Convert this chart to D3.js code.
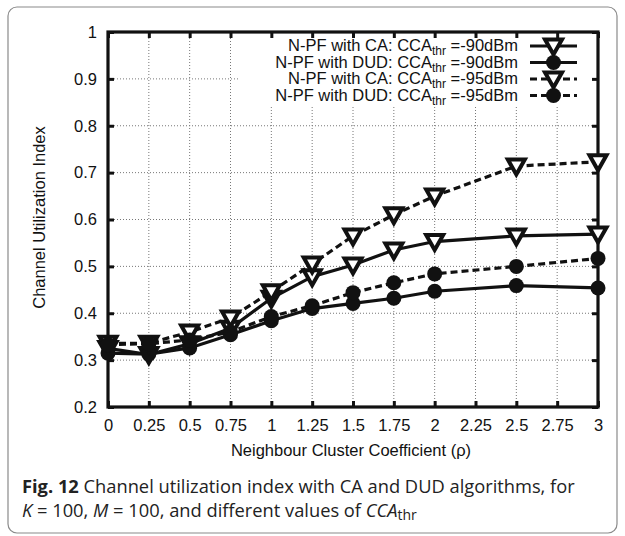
<!DOCTYPE html>
<html>
<head>
<meta charset="utf-8">
<script src="https://cdn.jsdelivr.net/npm/d3@7"></script>
<style>
  html, body { margin: 0; padding: 0; background: #fff; }
  svg { display: block; }
</style>
</head>
<body>
<svg id="chart" width="625" height="536"></svg>
<script>
// ---- data ----
const xValues = [0, 0.25, 0.5, 0.75, 1, 1.25, 1.5, 1.75, 2, 2.5, 3];
const caMinus90  = [0.325, 0.312, 0.335, 0.368, 0.432, 0.478, 0.503, 0.535, 0.553, 0.565, 0.569];
const dudMinus90 = [0.315, 0.313, 0.326, 0.354, 0.384, 0.410, 0.421, 0.432, 0.447, 0.459, 0.454];
const caMinus95  = [0.336, 0.336, 0.360, 0.390, 0.446, 0.505, 0.565, 0.610, 0.650, 0.714, 0.723];
const dudMinus95 = [0.333, 0.335, 0.343, 0.360, 0.393, 0.416, 0.444, 0.465, 0.484, 0.500, 0.517];
const xTicks = [0, 0.25, 0.5, 0.75, 1, 1.25, 1.5, 1.75, 2, 2.25, 2.5, 2.75, 3];
const yTicks = [0.2, 0.3, 0.4, 0.5, 0.6, 0.7, 0.8, 0.9, 1];
const seriesNames = ["N-PF with CA: CCA", "N-PF with DUD: CCA", "N-PF with CA: CCA", "N-PF with DUD: CCA"];
const seriesSuffix = [" =-90dBm", " =-90dBm", " =-95dBm", " =-95dBm"];

const series = [
  { values: caMinus90,  dashed: false, marker: "tri" },
  { values: dudMinus90, dashed: false, marker: "circle" },
  { values: caMinus95,  dashed: true,  marker: "tri" },
  { values: dudMinus95, dashed: true,  marker: "circle" }
];

const svg = d3.select("#chart");
const m = { left: 108, right: 598, top: 32, bottom: 407 };

// outer card
svg.append("rect").attr("x", 8).attr("y", 7).attr("width", 609).attr("height", 526)
  .attr("rx", 9).attr("fill", "#fff").attr("stroke", "#8a8a8a").attr("stroke-width", 1.2);

const x = d3.scaleLinear().domain([0, 3]).range([m.left, m.right]);
const y = d3.scaleLinear().domain([0.2, 1]).range([m.bottom, m.top]);

const font = "'Liberation Sans', Arial, Helvetica, sans-serif";
const fs = 16.5;

// grid
const grid = svg.append("g").attr("stroke", "#777").attr("stroke-width", 1)
  .attr("stroke-dasharray", "1,2").attr("fill", "none");
xTicks.slice(1, -1).forEach(t => {
  grid.append("line").attr("x1", x(t)).attr("x2", x(t)).attr("y1", m.top).attr("y2", m.bottom);
});
yTicks.slice(1, -1).forEach(t => {
  grid.append("line").attr("x1", m.left).attr("x2", m.right).attr("y1", y(t)).attr("y2", y(t));
});

// legend background (covers grid)
svg.append("rect").attr("x", 238).attr("y", m.top + 2).attr("width", 354).attr("height", 71)
  .attr("fill", "#fff");

// axes with ticks inside and mirrored
const tickLen = 6;
const axB = d3.axisBottom(x).tickValues(xTicks).tickSizeInner(-tickLen).tickSizeOuter(0).tickPadding(12)
  .tickFormat(d => String(d));
const axL = d3.axisLeft(y).tickValues(yTicks).tickSizeInner(-tickLen).tickSizeOuter(0).tickPadding(11)
  .tickFormat(d => String(+d.toFixed(1)));
const axT = d3.axisTop(x).tickValues(xTicks).tickSizeInner(-tickLen).tickSizeOuter(0).tickFormat("");
const axR = d3.axisRight(y).tickValues(yTicks).tickSizeInner(-tickLen).tickSizeOuter(0).tickFormat("");

function styleAxis(g) {
  g.select(".domain").remove();
  g.selectAll(".tick line").attr("stroke", "#111").attr("stroke-width", 3);
  g.selectAll(".tick text").attr("font-family", font).attr("font-size", fs).attr("fill", "#111");
}
svg.append("g").attr("transform", `translate(0,${m.bottom})`).call(axB).call(styleAxis);
svg.append("g").attr("transform", `translate(${m.left},0)`).call(axL).call(styleAxis);
svg.append("g").attr("transform", `translate(0,${m.top})`).call(axT).call(styleAxis);
svg.append("g").attr("transform", `translate(${m.right},0)`).call(axR).call(styleAxis);

// frame
svg.append("rect").attr("x", m.left).attr("y", m.top).attr("width", m.right - m.left)
  .attr("height", m.bottom - m.top).attr("fill", "none").attr("stroke", "#111").attr("stroke-width", 3.2);

// axis titles
svg.append("text").attr("x", (m.left + m.right) / 2 - 2).attr("y", 456)
  .attr("text-anchor", "middle").attr("font-family", font).attr("font-size", fs).attr("fill", "#111")
  .text("Neighbour Cluster Coefficient (ρ)");
svg.append("text").attr("transform", `translate(45,${(m.top + m.bottom) / 2 - 2}) rotate(-90)`)
  .attr("text-anchor", "middle").attr("font-family", font).attr("font-size", fs).attr("fill", "#111")
  .text("Channel Utilization Index");

// markers
function triPath(cx, cy) {
  return `M${cx - 8.5},${cy - 6.5}L${cx + 8.5},${cy - 6.5}L${cx},${cy + 8.5}Z`;
}
function drawMarker(g, kind, cx, cy) {
  if (kind === "tri") {
    g.append("path").attr("d", triPath(cx, cy)).attr("fill", "#fff")
      .attr("stroke", "#111").attr("stroke-width", 4).attr("stroke-linejoin", "miter");
  } else {
    g.append("circle").attr("cx", cx).attr("cy", cy).attr("r", 7.5).attr("fill", "#111");
  }
}

const line = d3.line().x((d, i) => x(xValues[i])).y(d => y(d));
const plot = svg.append("g");
series.forEach(s => {
  plot.append("path").attr("d", line(s.values)).attr("fill", "none")
    .attr("stroke", "#111").attr("stroke-width", 3.2)
    .attr("stroke-dasharray", s.dashed ? "7,4" : null);
});
series.forEach(s => {
  s.values.forEach((v, i) => drawMarker(plot, s.marker, x(xValues[i]), y(v)));
});

// legend
const legRows = [46, 62.5, 79, 95.5];
series.forEach((s, i) => {
  const ry = legRows[i];
  const t = svg.append("text").attr("x", 518).attr("y", ry + 5).attr("text-anchor", "end")
    .attr("font-family", font).attr("font-size", fs).attr("fill", "#111");
  t.append("tspan").text(seriesNames[i]);
  t.append("tspan").attr("font-size", 12).attr("dy", 4).text("thr");
  t.append("tspan").attr("dy", -4).text(seriesSuffix[i]);
  svg.append("line").attr("x1", 530).attr("x2", 577).attr("y1", ry).attr("y2", ry)
    .attr("stroke", "#111").attr("stroke-width", 3.2)
    .attr("stroke-dasharray", s.dashed ? "7,4" : null);
  drawMarker(svg, s.marker, 553.5, ry);
});

// caption
const cfont = "'Open Sans', 'Noto Sans', sans-serif";
const cfs = 18.3;
const c1 = svg.append("text").attr("x", 22).attr("y", 493).attr("font-family", cfont)
  .attr("font-size", cfs).attr("fill", "#222");
c1.append("tspan").attr("font-weight", "bold").text("Fig. 12");
c1.append("tspan").text(" Channel utilization index with CA and DUD algorithms, for");
const c2 = svg.append("text").attr("x", 22).attr("y", 517).attr("font-family", cfont)
  .attr("font-size", cfs).attr("fill", "#222");
c2.append("tspan").attr("font-style", "italic").text("K");
c2.append("tspan").text(" = 100, ");
c2.append("tspan").attr("font-style", "italic").text("M");
c2.append("tspan").text(" = 100, and different values of ");
c2.append("tspan").attr("font-style", "italic").text("CCA");
c2.append("tspan").attr("font-size", 14).attr("dy", 3).text("thr");
</script>
</body>
</html>
